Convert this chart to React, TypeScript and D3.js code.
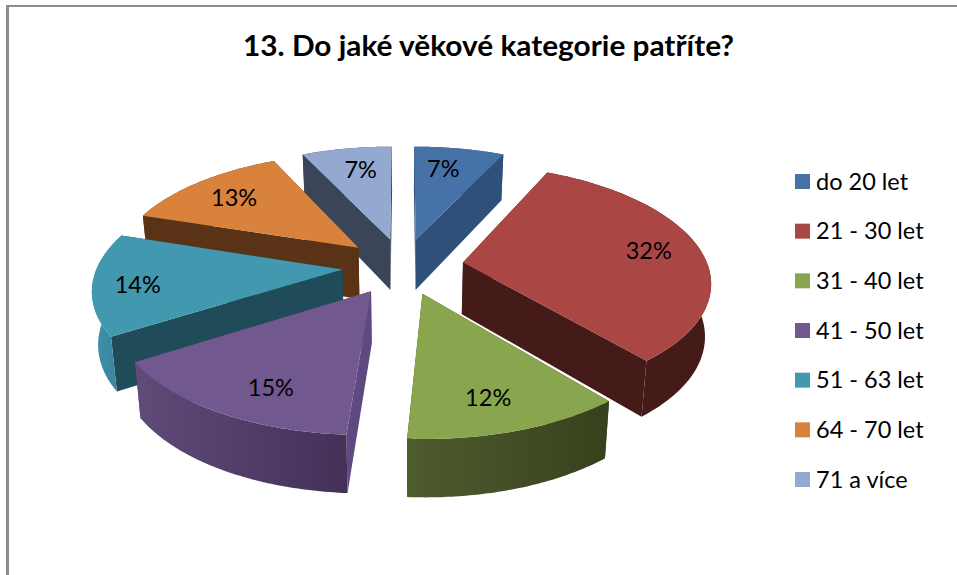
import React from "react";
import * as d3 from "d3";

const title = "13. Do jaké věkové kategorie patříte?";
const categories = ["do 20 let", "21 - 30 let", "31 - 40 let", "41 - 50 let", "51 - 63 let", "64 - 70 let", "71 a více"];
const shares = [7, 32, 12, 15, 14, 13, 7];
const topColors = ["#4672a8", "#aa4644", "#89a54e", "#71588f", "#4198af", "#d9823c", "#93a9cf"];
const sideColors = ["#2f5179", "#451b19", "#38411d", "#5e4a80", "#204c5a", "#5a3317", "#3a4559"];
const rimColors: [string, string][] = [
  ["#2f5179", "#2f5179"],
  ["#451b19", "#451b19"],
  ["#4f5c2e", "#38411d"],
  ["#5f4a78", "#433158"],
  ["#3d8fa8", "#36809a"],
  ["#5a3317", "#5a3317"],
  ["#3a4559", "#3a4559"],
];
// Small per-slice corrections to the automatic label anchor, in pixels.
const labelShiftX = [-7, 3, -5, 14, -13, 1, 5];
const labelShiftY = [1, -1, 3, 7, 4, 1, 2];

const WIDTH = 957;
const HEIGHT = 575;
const CX = 403;
const CY = 266;
const RADIUS = 245;
const EXPLODE = 0.248;
const TILT = 114;
const PERSPECTIVE = 0.15;
const THICKNESS = 52;
const LABEL_RADIUS = 0.77;
const FONT_SIZE = 23.5;

type P = [number, number];

// Disc coordinates: u to the right, v toward the viewer, both in radii.
const project = (u: number, v: number): P => {
  const s = 1 / (1 - PERSPECTIVE * v);
  return [CX + u * RADIUS * s, CY + v * TILT * s];
};
const projectLow = (u: number, v: number): P => {
  const [x, y] = project(u, v);
  return [CX + (x - CX) * 0.98, y + THICKNESS * (1 + 0.1 * v)];
};

const pie = d3.pie<number>().sort(null).startAngle(0).endAngle(2 * Math.PI);
const arcs = pie(shares);

const toPath = d3.line<P>();

const slices = arcs.map((a, i) => {
  const mid = (a.startAngle + a.endAngle) / 2;
  const ou = EXPLODE * Math.sin(mid);
  const ov = -EXPLODE * Math.cos(mid);
  const angles = d3.range(0, 61).map((k) => a.startAngle + ((a.endAngle - a.startAngle) * k) / 60);
  const rim: [number, number][] = angles.map((t) => [ou + Math.sin(t), ov - Math.cos(t)]);
  const apexTop = project(ou, ov);
  const apexLow = projectLow(ou, ov);
  const rimTop = rim.map(([u, v]) => project(u, v));
  const rimLow = rim.map(([u, v]) => projectLow(u, v));
  const label = project(ou + LABEL_RADIUS * Math.sin(mid), ov - LABEL_RADIUS * Math.cos(mid));
  return { i, mid, depth: ov, apexTop, apexLow, rimTop, rimLow, label };
});

// Back slices are painted first so the nearer ones overlap them.
const paintOrder = [...slices].sort((a, b) => a.depth - b.depth);

const legendY = d3.scalePoint<string>().domain(categories).range([181.5, 479.5]);

export default function App() {
  return (
    <svg
      width={WIDTH}
      height={HEIGHT}
      viewBox={`0 0 ${WIDTH} ${HEIGHT}`}
      style={{ position: "absolute", left: 0, top: 0, background: "#fff" }}
      fontFamily="Lato, sans-serif"
    >
      <defs>
        {slices.map((s) => (
          <linearGradient
            key={s.i}
            id={`rim-${s.i}`}
            gradientUnits="userSpaceOnUse"
            x1={d3.min(s.rimLow, (p) => p[0])}
            x2={d3.max(s.rimLow, (p) => p[0])}
            y1={0}
            y2={0}
          >
            <stop offset="0" stopColor={rimColors[s.i][0]} />
            <stop offset="1" stopColor={rimColors[s.i][1]} />
          </linearGradient>
        ))}
      </defs>

      <line x1={7.5} x2={7.5} y1={5} y2={HEIGHT} stroke="#8c8c8c" strokeWidth={3} />
      <line x1={6} x2={WIDTH} y1={6} y2={6} stroke="#8c8c8c" strokeWidth={2} />

      <text
        x={488.5}
        y={56}
        textAnchor="middle"
        fontSize={29}
        fontWeight={700}
        fill="#000"
        textLength={491}
        lengthAdjust="spacingAndGlyphs"
      >
        {title}
      </text>

      {paintOrder.map((s) => {
        const last = s.rimTop.length - 1;
        return (
          <g key={s.i}>
            <path
              d={`${toPath([s.apexTop, s.rimTop[0], s.rimLow[0], s.apexLow])}Z`}
              fill={sideColors[s.i]}
            />
            <path
              d={`${toPath([s.apexTop, s.rimTop[last], s.rimLow[last], s.apexLow])}Z`}
              fill={sideColors[s.i]}
            />
            <path
              d={`${toPath([...s.rimTop, ...[...s.rimLow].reverse()])}Z`}
              fill={`url(#rim-${s.i})`}
            />
            <path d={`${toPath([s.apexTop, ...s.rimTop])}Z`} fill={topColors[s.i]} />
          </g>
        );
      })}

      {slices.map((s) => (
        <text
          key={s.i}
          x={s.label[0] + labelShiftX[s.i]}
          y={s.label[1] + labelShiftY[s.i]}
          dy="0.35em"
          textAnchor="middle"
          fontSize={FONT_SIZE}
          fill="#000"
        >
          {shares[s.i]}%
        </text>
      ))}

      {categories.map((c, i) => {
        const y = legendY(c) as number;
        return (
          <g key={c}>
            <rect x={795} y={y - 7.5} width={15} height={15} fill={topColors[i]} />
            <text x={816} y={y} dy="0.35em" fontSize={FONT_SIZE} fill="#000">
              {c}
            </text>
          </g>
        );
      })}
    </svg>
  );
}
